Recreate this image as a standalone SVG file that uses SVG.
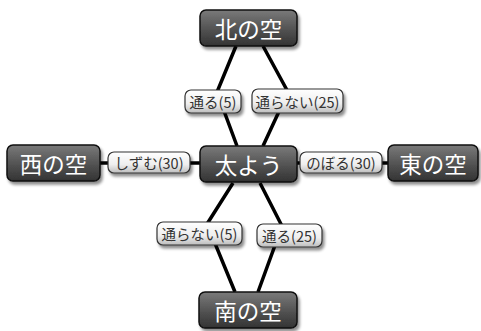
<svg xmlns="http://www.w3.org/2000/svg" width="481" height="331" viewBox="0 0 481 331">
<defs>
<linearGradient id="ng" x1="0" y1="0" x2="0" y2="1">
<stop offset="0" stop-color="#7a7a7a"/>
<stop offset="0.5" stop-color="#555"/>
<stop offset="1" stop-color="#333"/>
</linearGradient>
<linearGradient id="lg" x1="0" y1="0" x2="0" y2="1">
<stop offset="0" stop-color="#ffffff"/>
<stop offset="0.6" stop-color="#eeeeee"/>
<stop offset="1" stop-color="#bdbdbd"/>
</linearGradient>
<filter id="sh" x="-20%" y="-20%" width="150%" height="160%">
<feGaussianBlur in="SourceAlpha" stdDeviation="1.8"/>
<feOffset dx="2" dy="3" result="b"/>
<feComponentTransfer><feFuncA type="linear" slope="0.45"/></feComponentTransfer>
<feMerge><feMergeNode/><feMergeNode in="SourceGraphic"/></feMerge>
</filter>
</defs>
<style>
.node rect{fill:url(#ng);stroke:#111;stroke-width:1.5;filter:url(#sh)}
.node text{fill:#fff;font-family:"Noto Sans CJK JP","Noto Sans",sans-serif;font-size:22.5px;text-anchor:middle;dominant-baseline:central}
.lab rect{fill:url(#lg);stroke:#333;stroke-width:1.2;filter:url(#sh)}
.lab text{fill:#333;font-family:"Noto Sans CJK JP","Noto Sans",sans-serif;font-size:14.5px;text-anchor:middle;dominant-baseline:central}
.edges polyline,.edges line{fill:none;stroke:#000;stroke-width:3.5}
</style>
<rect width="481" height="331" fill="#fff"/>
<g class="edges" id="edges">
<polyline points="236,46 217,92 237,146"/>
<polyline points="263,46 288,92 263,146"/>
<polyline points="233,183 207,224 235,292"/>
<polyline points="260,183 282,226 258,292"/>
<line x1="100" y1="163" x2="200" y2="163"/>
<line x1="297" y1="163" x2="388" y2="163"/>
</g>
<g class="node" id="n-north"><rect x="200" y="10" width="97" height="36" rx="6"/><text x="248.5" y="28">北の空</text></g>
<g class="node" id="n-sun"><rect x="200" y="146" width="97" height="36" rx="6"/><text x="248.5" y="164">太よう</text></g>
<g class="node" id="n-west"><rect x="7" y="145" width="93" height="36" rx="6"/><text x="53.5" y="163">西の空</text></g>
<g class="node" id="n-east"><rect x="388" y="145" width="90" height="36" rx="6"/><text x="433" y="163">東の空</text></g>
<g class="node" id="n-south"><rect x="199" y="292" width="98" height="36" rx="6"/><text x="248" y="310">南の空</text></g>
<g class="lab" id="l-n1"><rect x="185" y="90" width="56" height="23" rx="6"/><text x="213" y="101.5">通る(5)</text></g>
<g class="lab" id="l-n2"><rect x="252" y="89" width="91" height="24" rx="6"/><text x="297.5" y="101">通らない(25)</text></g>
<g class="lab" id="l-w"><rect x="108" y="152" width="82" height="21" rx="6"/><text x="149" y="162.5">しずむ(30)</text></g>
<g class="lab" id="l-e"><rect x="300" y="152" width="82" height="21" rx="6"/><text x="341" y="162.5">のぼる(30)</text></g>
<g class="lab" id="l-s1"><rect x="157" y="222" width="85" height="23" rx="6"/><text x="199.5" y="233.5">通らない(5)</text></g>
<g class="lab" id="l-s2"><rect x="257" y="224" width="65" height="23" rx="6"/><text x="289.5" y="235.5">通る(25)</text></g>
</svg>
